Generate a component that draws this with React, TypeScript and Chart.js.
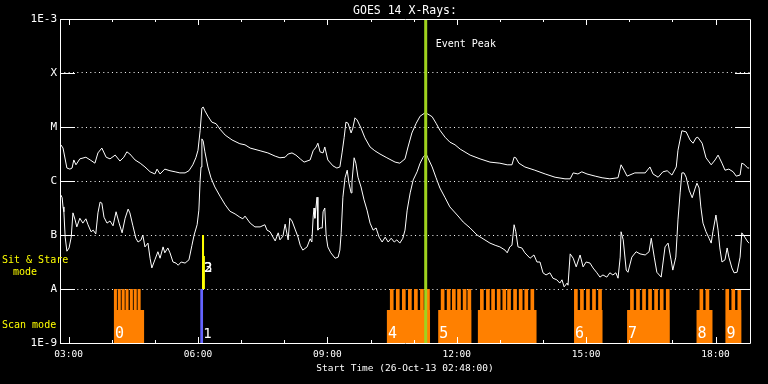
import React, { useEffect, useRef } from 'react';
import { Chart, registerables } from 'chart.js';

Chart.register(...registerables);

const MONO = '"DejaVu Sans Mono", monospace';

const TITLE = 'GOES 14 X-Rays:';
const X_TITLE = 'Start Time (26-Oct-13 02:48:00)';
const EVENT_LABEL = 'Event Peak';

const startHour = 2.8;
const endHour = 18.8;
const hourTicks = [3, 4, 5, 6, 7, 8, 9, 10, 11, 12, 13, 14, 15, 16, 17, 18];
const decadeValues = [1e-9, 1e-8, 1e-7, 1e-6, 1e-5, 1e-4, 1e-3];
const decadeLabels = ['1E-9', 'A', 'B', 'C', 'M', 'X', '1E-3'];

// [hour of day, log10 flux]
const longSeries: [number, number][] = [
  [2.82,-5.33],[2.87,-5.39],[2.96,-5.76],[3.03,-5.78],[3.08,-5.76],[3.12,-5.61],[3.17,-5.70],[3.26,-5.59],
  [3.40,-5.56],[3.50,-5.61],[3.61,-5.67],[3.68,-5.48],[3.77,-5.39],[3.87,-5.56],[3.96,-5.59],[4.08,-5.52],
  [4.19,-5.63],[4.28,-5.56],[4.35,-5.46],[4.42,-5.50],[4.54,-5.61],[4.66,-5.67],[4.77,-5.74],[4.89,-5.83],
  [5.00,-5.87],[5.05,-5.78],[5.12,-5.87],[5.23,-5.78],[5.35,-5.81],[5.47,-5.83],[5.58,-5.85],[5.70,-5.85],
  [5.79,-5.81],[5.88,-5.70],[5.95,-5.57],[6.00,-5.43],[6.05,-5.06],[6.09,-4.65],[6.12,-4.63],[6.16,-4.70],
  [6.23,-4.80],[6.32,-4.91],[6.42,-4.94],[6.51,-5.04],[6.63,-5.15],[6.79,-5.24],[6.97,-5.31],[7.09,-5.33],
  [7.21,-5.39],[7.44,-5.44],[7.62,-5.48],[7.79,-5.54],[7.90,-5.57],[8.02,-5.56],[8.09,-5.50],[8.18,-5.48],
  [8.27,-5.52],[8.37,-5.59],[8.46,-5.65],[8.60,-5.61],[8.67,-5.44],[8.74,-5.37],[8.78,-5.30],[8.83,-5.46],
  [8.90,-5.48],[8.94,-5.37],[9.01,-5.61],[9.13,-5.72],[9.22,-5.76],[9.29,-5.74],[9.34,-5.48],[9.39,-5.19],
  [9.43,-4.91],[9.48,-4.93],[9.55,-5.11],[9.59,-5.02],[9.64,-4.83],[9.69,-4.87],[9.78,-5.02],[9.87,-5.20],
  [9.99,-5.37],[10.10,-5.44],[10.22,-5.50],[10.38,-5.57],[10.57,-5.65],[10.68,-5.67],[10.80,-5.59],[10.87,-5.37],
  [10.96,-5.11],[11.06,-4.93],[11.15,-4.80],[11.26,-4.74],[11.33,-4.76],[11.43,-4.81],[11.52,-4.93],[11.61,-5.06],
  [11.73,-5.19],[11.84,-5.28],[11.96,-5.33],[12.08,-5.41],[12.31,-5.52],[12.54,-5.59],[12.77,-5.65],[13.00,-5.67],
  [13.17,-5.70],[13.28,-5.70],[13.33,-5.56],[13.37,-5.57],[13.44,-5.67],[13.58,-5.74],[13.81,-5.80],[14.05,-5.87],
  [14.28,-5.93],[14.51,-5.96],[14.63,-5.96],[14.70,-5.85],[14.81,-5.87],[14.90,-5.83],[15.02,-5.87],[15.21,-5.91],
  [15.37,-5.94],[15.55,-5.96],[15.74,-5.94],[15.81,-5.70],[15.88,-5.80],[15.95,-5.91],[16.13,-5.85],[16.37,-5.85],
  [16.48,-5.74],[16.55,-5.87],[16.67,-5.93],[16.78,-5.83],[16.88,-5.81],[16.99,-5.89],[17.09,-5.74],[17.13,-5.43],
  [17.22,-5.07],[17.32,-5.09],[17.41,-5.24],[17.48,-5.30],[17.55,-5.20],[17.59,-5.19],[17.69,-5.30],[17.78,-5.57],
  [17.90,-5.70],[17.99,-5.61],[18.06,-5.52],[18.15,-5.67],[18.22,-5.80],[18.31,-5.78],[18.41,-5.83],[18.48,-5.91],
  [18.57,-5.89],[18.61,-5.67],[18.66,-5.69],[18.75,-5.76],[18.78,-5.76],
];

const shortSeries: [number, number][] = [
  [2.82,-6.26],[2.85,-6.31],[2.87,-6.48],[2.89,-6.57],[2.92,-7.04],[2.96,-7.30],[3.01,-7.24],[3.06,-7.04],
  [3.10,-6.59],[3.15,-6.72],[3.19,-6.85],[3.26,-6.69],[3.33,-6.78],[3.40,-6.70],[3.45,-6.81],[3.52,-6.94],
  [3.57,-6.91],[3.63,-6.98],[3.68,-6.59],[3.73,-6.39],[3.77,-6.41],[3.82,-6.67],[3.89,-6.78],[3.96,-6.74],
  [4.03,-6.83],[4.10,-6.57],[4.17,-6.78],[4.24,-6.96],[4.31,-6.69],[4.38,-6.52],[4.42,-6.59],[4.49,-6.83],
  [4.56,-7.06],[4.61,-7.13],[4.68,-7.09],[4.72,-7.00],[4.77,-7.22],[4.84,-7.15],[4.89,-7.44],[4.93,-7.61],
  [5.00,-7.46],[5.07,-7.31],[5.12,-7.43],[5.19,-7.22],[5.23,-7.33],[5.30,-7.24],[5.35,-7.33],[5.42,-7.50],
  [5.49,-7.52],[5.54,-7.56],[5.61,-7.50],[5.70,-7.52],[5.79,-7.46],[5.86,-7.19],[5.91,-7.00],[5.98,-6.81],
  [6.02,-6.54],[6.05,-5.98],[6.07,-5.74],[6.09,-5.22],[6.12,-5.26],[6.16,-5.46],[6.23,-5.74],[6.30,-5.94],
  [6.39,-6.11],[6.51,-6.28],[6.63,-6.44],[6.74,-6.56],[6.86,-6.61],[6.97,-6.67],[7.04,-6.70],[7.09,-6.65],
  [7.21,-6.78],[7.32,-6.85],[7.44,-6.85],[7.55,-6.81],[7.60,-6.91],[7.67,-6.94],[7.74,-7.04],[7.79,-7.11],
  [7.86,-6.96],[7.90,-7.09],[7.97,-7.02],[8.02,-6.80],[8.09,-7.09],[8.13,-6.69],[8.18,-6.74],[8.25,-6.89],
  [8.32,-7.04],[8.37,-7.19],[8.43,-7.28],[8.53,-7.22],[8.60,-7.07],[8.64,-7.13],[8.67,-6.67],[8.69,-6.50],
  [8.71,-6.69],[8.76,-6.30],[8.78,-6.91],[8.83,-6.87],[8.88,-6.87],[8.90,-6.57],[8.94,-6.50],[8.97,-7.00],
  [9.01,-7.22],[9.08,-7.33],[9.18,-7.43],[9.25,-7.41],[9.29,-7.28],[9.32,-6.96],[9.36,-6.30],[9.41,-5.94],
  [9.46,-5.80],[9.50,-6.04],[9.55,-6.22],[9.57,-6.02],[9.62,-5.57],[9.66,-5.67],[9.71,-5.93],[9.78,-6.11],
  [9.85,-6.35],[9.92,-6.54],[9.99,-6.78],[10.06,-6.91],[10.13,-6.87],[10.20,-7.04],[10.27,-7.13],[10.34,-7.04],
  [10.41,-7.13],[10.48,-7.06],[10.55,-7.13],[10.61,-7.09],[10.68,-7.15],[10.75,-7.06],[10.80,-6.91],[10.85,-6.54],
  [10.92,-6.22],[10.99,-5.98],[11.08,-5.83],[11.15,-5.67],[11.22,-5.56],[11.29,-5.50],[11.33,-5.57],[11.43,-5.74],
  [11.52,-5.94],[11.61,-6.13],[11.73,-6.31],[11.84,-6.48],[12.01,-6.63],[12.15,-6.76],[12.31,-6.87],[12.47,-7.00],
  [12.61,-7.07],[12.77,-7.15],[12.89,-7.19],[13.00,-7.22],[13.12,-7.28],[13.17,-7.33],[13.23,-7.22],[13.28,-7.19],
  [13.33,-6.81],[13.37,-6.94],[13.42,-7.22],[13.51,-7.24],[13.58,-7.33],[13.70,-7.43],[13.79,-7.37],[13.86,-7.50],
  [13.93,-7.50],[14.00,-7.70],[14.07,-7.74],[14.16,-7.70],[14.23,-7.80],[14.32,-7.83],[14.39,-7.89],[14.44,-7.83],
  [14.49,-7.96],[14.56,-7.89],[14.58,-7.93],[14.63,-7.35],[14.70,-7.43],[14.77,-7.59],[14.86,-7.37],[14.93,-7.59],
  [15.00,-7.50],[15.09,-7.52],[15.16,-7.61],[15.25,-7.70],[15.32,-7.78],[15.39,-7.74],[15.48,-7.78],[15.55,-7.70],
  [15.62,-7.74],[15.69,-7.70],[15.74,-7.80],[15.79,-7.41],[15.81,-6.94],[15.86,-7.09],[15.93,-7.65],[15.97,-7.69],
  [16.06,-7.41],[16.16,-7.31],[16.25,-7.35],[16.37,-7.37],[16.46,-7.31],[16.51,-7.06],[16.58,-7.41],[16.64,-7.69],
  [16.74,-7.78],[16.83,-7.22],[16.90,-7.15],[16.97,-7.46],[17.01,-7.65],[17.08,-7.41],[17.13,-6.72],[17.18,-6.22],
  [17.22,-5.85],[17.27,-5.85],[17.32,-5.93],[17.39,-6.17],[17.46,-6.31],[17.53,-6.13],[17.57,-6.04],[17.62,-6.13],
  [17.66,-6.48],[17.71,-6.78],[17.78,-6.94],[17.85,-7.06],[17.90,-7.15],[17.94,-6.94],[18.01,-6.63],[18.06,-6.91],
  [18.10,-7.24],[18.15,-7.50],[18.22,-7.46],[18.27,-7.24],[18.31,-7.41],[18.38,-7.61],[18.43,-7.70],[18.50,-7.69],
  [18.57,-7.41],[18.61,-6.96],[18.68,-7.04],[18.75,-7.13],[18.78,-7.15],
];

const eventPeakHour = 11.28;

// Scan mode observation blocks
const scanLabels = ['0', '4', '5', '', '6', '7', '8', '9'];
const scanStart = [4.05, 10.38, 11.57, 12.49, 14.72, 15.95, 17.56, 18.23];
const scanEnd = [4.75, 11.38, 12.34, 13.85, 15.38, 16.94, 17.93, 18.60];
const scanSpikeWidth = [0.07, 0.085, 0.085, 0.085, 0.085, 0.085, 0.085, 0.085];
const scanSpikes: number[][] = [
  [4.05, 4.14, 4.23, 4.32, 4.42, 4.51, 4.60],
  [10.45, 10.59, 10.73, 10.87, 11.01, 11.15, 11.29],
  [11.63, 11.77, 11.89, 12.01, 12.14, 12.25],
  [12.54, 12.68, 12.80, 12.93, 13.06, 13.17, 13.31, 13.44, 13.57, 13.71],
  [14.72, 14.86, 15.00, 15.14, 15.28],
  [16.02, 16.16, 16.30, 16.44, 16.58, 16.71, 16.85],
  [17.63, 17.77],
  [18.23, 18.37, 18.51],
];
const scanBaseExp = -8.39;
const scanTopExp = -8;

// Scan 1 (blue) and sit & stare 2, 3 (yellow): [start hour, end hour, log10 top]
const blueScanLabel = '1';
const blueScan: [number, number, number] = [6.05, 6.12, -8];
const sitStareLabels = ['2', '3'];
const sitStareBlocks: [number, number, number][] = [[6.09, 6.14, -7], [6.14, 6.16, -7.39]];

const flux = (e: number) => Math.pow(10, e);
const FLOOR = 1e-9;

function buildScanOutline() {
  const pts: { x: number; y: number }[] = [{ x: startHour, y: FLOOR }];
  const base = flux(scanBaseExp);
  const top = flux(scanTopExp);
  scanStart.forEach((s, i) => {
    pts.push({ x: s, y: FLOOR }, { x: s, y: base });
    scanSpikes[i].forEach((t) => {
      const e = t + scanSpikeWidth[i];
      pts.push({ x: t, y: base }, { x: t, y: top }, { x: e, y: top }, { x: e, y: base });
    });
    pts.push({ x: scanEnd[i], y: base }, { x: scanEnd[i], y: FLOOR });
  });
  pts.push({ x: endHour, y: FLOOR });
  return pts;
}

function blockOutline(blocks: [number, number, number][], floor: number) {
  const pts: { x: number; y: number }[] = [];
  blocks.forEach(([s, e, top]) => {
    pts.push({ x: s, y: floor }, { x: s, y: flux(top) }, { x: e, y: flux(top) }, { x: e, y: floor });
  });
  return pts;
}

const hourLabel = (v: number) => (v < 10 ? '0' : '') + v + ':00';

const framePlugin = {
  id: 'goesFrame',
  afterDatasetsDraw(chart: any) {
    const { ctx, chartArea: a, scales } = chart;
    const x = scales.x;
    const y = scales.y;
    ctx.save();
    ctx.strokeStyle = '#ffffff';
    ctx.lineWidth = 1;
    ctx.beginPath();
    ctx.rect(Math.round(a.left) + 0.5, Math.round(a.top) + 0.5, Math.round(a.right - a.left), Math.round(a.bottom - a.top));
    ctx.stroke();
    ctx.beginPath();
    hourTicks.forEach((h) => {
      const px = Math.round(x.getPixelForValue(h)) + 0.5;
      const len = h % 3 === 0 ? 6 : 3;
      ctx.moveTo(px, a.top);
      ctx.lineTo(px, a.top + len);
      ctx.moveTo(px, a.bottom - len);
      ctx.lineTo(px, a.bottom);
    });
    decadeValues.forEach((v) => {
      const py = Math.round(y.getPixelForValue(v)) + 0.5;
      ctx.moveTo(a.left, py);
      ctx.lineTo(a.left + 15, py);
      ctx.moveTo(a.right - 15, py);
      ctx.lineTo(a.right, py);
    });
    ctx.stroke();

    // texts
    ctx.textBaseline = 'alphabetic';
    ctx.fillStyle = '#ffffff';
    ctx.textAlign = 'center';
    ctx.font = '11.5px ' + MONO;
    ctx.fillText(TITLE, (a.left + a.right) / 2, 14);

    ctx.textAlign = 'left';
    ctx.font = '10px ' + MONO;
    ctx.fillText(EVENT_LABEL, x.getPixelForValue(eventPeakHour) + 10, 47);

    ctx.font = '15px ' + MONO;
    const labelY = y.getPixelForValue(flux(-8.9));
    scanLabels.forEach((lab, i) => {
      if (!lab) return;
      ctx.fillText(lab, x.getPixelForValue(scanStart[i]) + 1, labelY);
    });
    ctx.font = '14px ' + MONO;
    ctx.fillText(blueScanLabel, x.getPixelForValue(blueScan[0]) + 3, labelY);
    const ssY = y.getPixelForValue(flux(-7.68));
    sitStareLabels.forEach((lab) => {
      ctx.fillText(lab, x.getPixelForValue(sitStareBlocks[0][0]) + 2, ssY);
    });

    ctx.fillStyle = '#ffff00';
    ctx.font = '10px ' + MONO;
    ctx.fillText('Sit & Stare', 2, 262.5);
    ctx.fillText('mode', 13, 274.5);
    ctx.fillText('Scan mode', 2, 327.5);
    ctx.restore();
  },
};

export default function App() {
  const ref = useRef<HTMLCanvasElement | null>(null);

  useEffect(() => {
    document.body.style.margin = '0';
    document.body.style.background = '#000';
    const canvas = ref.current;
    if (!canvas) return;

    const fillStyle = {
      borderColor: 'rgba(0,0,0,0)',
      borderWidth: 0,
      pointRadius: 0,
      stepped: true,
    };

    const chart = new Chart(canvas, {
      type: 'line',
      data: {
        datasets: [
          {
            label: 'Event Peak',
            data: [{ x: eventPeakHour, y: 1e-9 }, { x: eventPeakHour, y: 1e-3 }],
            borderColor: '#a0d21e',
            borderWidth: 3,
            pointRadius: 0,
            order: 0,
          },
          {
            label: 'Long',
            data: longSeries.map(([h, e]) => ({ x: h, y: flux(e) })),
            borderColor: '#ffffff',
            borderWidth: 1,
            pointRadius: 0,
            tension: 0,
            order: 1,
          },
          {
            label: 'Short',
            data: shortSeries.map(([h, e]) => ({ x: h, y: flux(e) })),
            borderColor: '#ffffff',
            borderWidth: 1,
            pointRadius: 0,
            tension: 0,
            order: 1,
          },
          {
            label: 'Scan 1',
            data: blockOutline([blueScan], FLOOR),
            fill: 'start',
            backgroundColor: '#6464ff',
            ...fillStyle,
            order: 2,
          },
          {
            label: 'Sit & Stare',
            data: blockOutline(sitStareBlocks, 1e-8),
            fill: { value: 1e-8 },
            backgroundColor: '#ffff00',
            ...fillStyle,
            order: 2,
          },
          {
            label: 'Scan mode',
            data: buildScanOutline(),
            fill: 'start',
            backgroundColor: '#ff8000',
            ...fillStyle,
            order: 3,
          },
        ],
      } as any,
      options: {
        animation: false,
        responsive: false,
        devicePixelRatio: 1,
        layout: { padding: { top: 19, right: 18, bottom: 0, left: 0 } },
        plugins: {
          legend: { display: false },
          tooltip: { enabled: false },
          title: { display: false },
        },
        scales: {
          x: {
            type: 'linear',
            min: startHour,
            max: endHour,
            afterBuildTicks: (scale: any) => {
              scale.ticks = hourTicks.map((v) => ({ value: v }));
            },
            afterFit: (scale: any) => {
              scale.height = 41;
            },
            grid: { display: false, drawTicks: false },
            border: { display: false },
            ticks: {
              color: '#ffffff',
              autoSkip: false,
              maxRotation: 0,
              padding: 6,
              font: { family: MONO, size: 9.5 },
              callback: (v: any) => (Number(v) % 3 === 0 ? hourLabel(Number(v)) : ''),
            },
            title: {
              display: true,
              text: X_TITLE,
              color: '#ffffff',
              font: { family: MONO, size: 9.5 },
              padding: { top: 0, bottom: 10 },
            },
          },
          y: {
            type: 'logarithmic',
            min: 1e-9,
            max: 1e-3,
            afterBuildTicks: (scale: any) => {
              scale.ticks = decadeValues.map((v) => ({ value: v }));
            },
            afterFit: (scale: any) => {
              scale.width = 60;
            },
            grid: { color: '#ffffff', lineWidth: 1, drawTicks: false },
            border: { display: false, dash: [1, 3.33] },
            ticks: {
              color: '#ffffff',
              padding: 3,
              font: { family: MONO, size: 11 },
              callback: (v: any) => {
                const idx = Math.round(Math.log10(Number(v))) + 9;
                return decadeLabels[idx] ?? '';
              },
            },
          },
        },
      } as any,
      plugins: [framePlugin],
    });

    return () => chart.destroy();
  }, []);

  return (
    <div style={{ position: 'fixed', left: 0, top: 0, width: 768, height: 384, background: '#000' }}>
      <canvas ref={ref} width={768} height={384} style={{ display: 'block' }} />
    </div>
  );
}
